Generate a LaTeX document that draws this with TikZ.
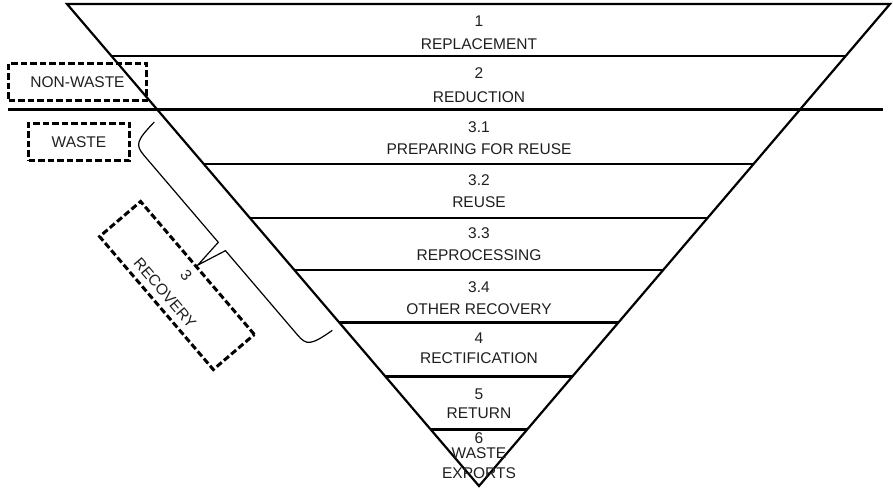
\documentclass[tikz,border=0pt]{standalone}
\usepackage{fontspec}
\setmainfont{Liberation Sans}
\usetikzlibrary{calc}
\begin{document}
\begin{tikzpicture}[x=1pt,y=-1pt,
  lbl/.style={font=\fontsize{15.5}{18}\selectfont, text=black!88, inner sep=0pt},
  edgeline/.style={line width=2.2pt, black},
  dbox/.style={draw, dash pattern=on 6.5pt off 3pt, line width=3pt, inner sep=0pt, font=\fontsize{15.5}{18}\selectfont, text=black!88},
  braceline/.style={line width=1.2pt, line join=miter}]
\useasboundingbox (0,0) rectangle (893,489);
\coordinate (TL) at (67,4);
\coordinate (TR) at (890,4);
\coordinate (B) at (479,486);
\draw[edgeline, line join=miter] (TL) -- (TR) -- (B) -- cycle;
\foreach \yy in {56,164,218,270,322.5,376.5,429.5}{
  \pgfmathsetmacro\ff{(\yy-4)/482}
  \draw[edgeline] ($(TL)!\ff!(B)$) -- ($(TR)!\ff!(B)$);
}
\coordinate (DL) at (8,110);
\coordinate (DR) at (883,110);
\draw[line width=3pt] (DL) -- (DR);
% labels
\node[lbl] (n1) at (479,21) {1};
\node[lbl] (t1) at (479,44) {REPLACEMENT};
\node[lbl] (n2) at (479,73) {2};
\node[lbl] (t2) at (479,97) {REDUCTION};
\node[lbl] (n31) at (479,127) {3.1};
\node[lbl] (t31) at (479,149) {PREPARING FOR REUSE};
\node[lbl] (n32) at (479,180) {3.2};
\node[lbl] (t32) at (479,202) {REUSE};
\node[lbl] (n33) at (479,233) {3.3};
\node[lbl] (t33) at (479,255) {REPROCESSING};
\node[lbl] (n34) at (479,287) {3.4};
\node[lbl] (t34) at (479,309) {OTHER RECOVERY};
\node[lbl] (n4) at (479,338) {4};
\node[lbl] (t4) at (479,358) {RECTIFICATION};
\node[lbl] (n5) at (479,394) {5};
\node[lbl] (t5) at (479,413) {RETURN};
\node[lbl] (n6) at (479,438) {6};
\node[lbl] (t6a) at (479,453) {WASTE};
\node[lbl] (t6b) at (479,473) {EXPORTS};
% side boxes
\node[dbox, minimum width=138pt, minimum height=37pt] (nonwaste) at (77.5,82) {NON-WASTE};
\node[dbox, minimum width=101pt, minimum height=37pt] (waste) at (79,142) {WASTE};
% brace and recovery box in frame parallel to left edge
\begin{scope}[x={(0.6498pt,-0.7602pt)}, y={(0.7602pt,0.6498pt)}]
  \draw[braceline] (193,38) .. controls (195.5,12) and (198,8.5) .. (212,8.5)
     -- (326,8.5) -- (330,-22) -- (337,8.5) -- (448,8.5)
     .. controls (462,8.5) and (464.5,12) .. (467,38);
  \node[dbox, rotate=-49.47, minimum width=175pt, minimum height=54pt] (recbox) at (332,-51) {};
  \node[lbl, rotate=-49.47] (r3) at (330,-37) {3};
  \node[lbl, rotate=-49.47] (rrec) at (330,-65) {RECOVERY};
\end{scope}
\end{tikzpicture}
\end{document}
